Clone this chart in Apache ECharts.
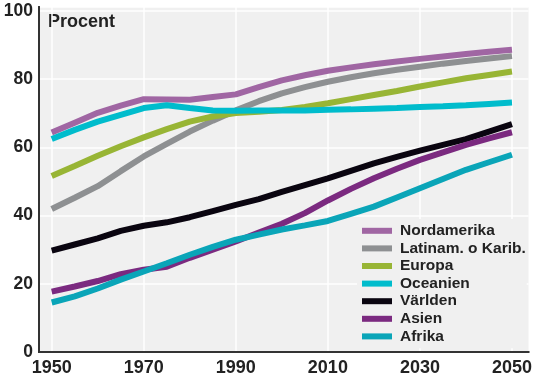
<!DOCTYPE html>
<html>
<head>
<meta charset="utf-8">
<script src="https://cdn.jsdelivr.net/npm/echarts@6/dist/echarts.min.js"></script>
<style>
	html, body { margin: 0; padding: 0; background: #fff; }
	#main { width: 535px; height: 381px; }
</style>
</head>
<body>
<div id="main"></div>
<script>
var years = [1950, 1955, 1960, 1965, 1970, 1975, 1980, 1985, 1990, 1995, 2000,
	2005, 2010, 2015, 2020, 2025, 2030, 2035, 2040, 2045, 2050];
var xTicks = [1950, 1970, 1990, 2010, 2030, 2050];
var yTicks = [0, 20, 40, 60, 80, 100];

var nordamerika = [64.3, 67.2, 70.1, 72.2, 74.1, 74.0, 73.9, 74.7, 75.5, 77.6, 79.6,
	81.1, 82.4, 83.4, 84.3, 85.1, 85.9, 86.6, 87.3, 88.0, 88.6];
var latinam = [41.9, 45.2, 48.6, 53.0, 57.3, 61.0, 64.6, 67.8, 70.8, 73.5, 75.8,
	77.6, 79.2, 80.5, 81.7, 82.7, 83.6, 84.5, 85.3, 86.0, 86.7];
var europa = [51.6, 54.5, 57.5, 60.3, 62.9, 65.3, 67.5, 69.0, 70.0, 70.4, 70.9,
	71.8, 72.9, 74.1, 75.3, 76.5, 77.8, 79.0, 80.2, 81.2, 82.2];
var oceanien = [62.4, 65.1, 67.5, 69.5, 71.5, 72.3, 71.5, 70.8, 70.7, 70.8, 70.8,
	70.8, 71.0, 71.1, 71.3, 71.5, 71.8, 72.0, 72.3, 72.7, 73.1];
var varlden = [29.7, 31.5, 33.3, 35.5, 37.0, 38.0, 39.5, 41.3, 43.1, 44.8, 46.9,
	48.9, 50.9, 53.1, 55.3, 57.2, 59.0, 60.7, 62.4, 64.6, 66.8];
var asien = [17.7, 19.2, 20.8, 22.8, 24.1, 25.0, 27.6, 30.0, 32.4, 35.0, 37.6,
	40.7, 44.4, 47.8, 50.9, 53.7, 56.3, 58.5, 60.7, 62.6, 64.4];
var afrika = [14.5, 16.3, 18.6, 21.2, 23.6, 26.0, 28.5, 30.8, 32.9, 34.4, 35.9,
	37.1, 38.4, 40.5, 42.6, 45.3, 48.0, 50.7, 53.4, 55.6, 57.8];

var names = ['Nordamerika', 'Latinam. o Karib.', 'Europa', 'Oceanien', 'Världen', 'Asien', 'Afrika'];
var colors = ['#a066a3', '#8e9092', '#98b535', '#00bccc', '#0a0510', '#7b2a80', '#0aa5b8'];
var values = [nordamerika, latinam, europa, oceanien, varlden, asien, afrika];

var series = [];
for (var i = 0; i < names.length; i++) {
	var pts = [];
	for (var j = 0; j < years.length; j++) {
		pts.push([years[j], values[i][j]]);
	}
	series.push({
		name: names[i],
		type: 'line',
		data: pts,
		showSymbol: false,
		symbol: 'none',
		lineStyle: { width: 6, color: colors[i] },
		itemStyle: { color: colors[i] },
		xAxisIndex: 0,
		yAxisIndex: 0
	});
}

var font = 'Liberation Sans, Arial, sans-serif';
var frame = function(pos, idx) {
	return {
		type: 'value', gridIndex: 1, position: pos, min: 0, max: 1, z: 5,
		axisLine: { show: true, lineStyle: { color: idx ? '#333' : '#222', width: 2 } },
		axisTick: { show: false }, axisLabel: { show: false }, splitLine: { show: false }
	};
};

var myChart = echarts.init(document.getElementById('main'));
var option = {
	animation: false,
	backgroundColor: '#fff',
	// grid 0 holds the data (1950..2050 exactly), grid 1 is the padded frame behind it
	grid: [{
		left: 51.7, right: 20.7, top: 7, bottom: 29
	}, {
		left: 39, right: 6.5, top: 7, bottom: 29,
		show: true, backgroundColor: '#f0f0f0', borderWidth: 0
	}],
	xAxis: [{
		type: 'value',
		gridIndex: 0,
		min: 1950,
		max: 2050,
		interval: 20,
		axisLine: { show: false },
		axisTick: { show: false },
		axisLabel: {
			margin: 7,
			fontFamily: font, fontWeight: 'bold', fontSize: 18, color: '#222',
			formatter: function(v) { return xTicks.indexOf(v) >= 0 ? String(v) : ''; }
		},
		splitLine: { show: true, lineStyle: { color: '#fff', width: 1.5 } }
	}, frame('bottom', 0), frame('top', 1)],
	yAxis: [{
		type: 'value',
		gridIndex: 0,
		min: 0,
		max: 101.1,
		show: false
	}, {
		type: 'value',
		gridIndex: 1,
		min: 0,
		max: 101.1,
		interval: 20,
		axisLine: { show: true, lineStyle: { color: '#222', width: 2 } },
		axisTick: { show: false },
		axisLabel: {
			margin: 6,
			fontFamily: font, fontWeight: 'bold', fontSize: 17.5, color: '#222',
			formatter: function(v) { return yTicks.indexOf(v) >= 0 ? String(v) : ''; }
		},
		splitLine: { show: true, lineStyle: { color: '#fff', width: 1.5 } }
	}, frame('right', 1)],
	legend: {
		data: names,
		orient: 'vertical',
		left: 357,
		top: 219,
		padding: [3, 1, 3, 5],
		backgroundColor: '#f0f0f0',
		icon: 'rect',
		itemWidth: 30,
		itemHeight: 6,
		itemGap: 0,
		textStyle: {
			fontFamily: font,
			fontWeight: 'bold',
			fontSize: 15.5,
			lineHeight: 17.6,
			color: '#222',
			padding: [0, 0, 0, 3]
		}
	},
	graphic: [{
		type: 'text',
		left: 48,
		top: 13,
		style: {
			text: 'Procent',
			font: 'bold 18px "Liberation Sans", Arial, sans-serif',
			fill: '#222'
		}
	}],
	series: series
};
myChart.setOption(option);
</script>
</body>
</html>
